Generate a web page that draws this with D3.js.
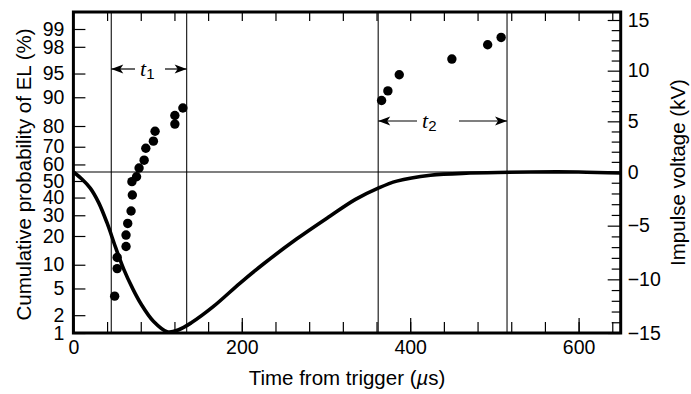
<!doctype html>
<html>
<head>
<meta charset="utf-8">
<style>
    body { margin: 0; background: #fff; }
    text { font-family: "Liberation Sans", Arial, Helvetica, sans-serif; fill: #000; }
    .tl { font-size: 19.5px; }
    .ttl { font-size: 20.5px; }
    .sym { font-family: "Liberation Serif", "Times New Roman", serif; font-style: italic; font-size: 22px; }
    .sub { font-size: 15px; }
</style>
<script src="https://cdn.jsdelivr.net/npm/d3@7"></script>
</head>
<body>
<svg width="691" height="394"></svg>
<script>

// tick labels
var probTicks = [1, 2, 5, 10, 20, 30, 40, 50, 60, 70, 80, 90, 95, 98, 99];
var voltTicks = [-15, -10, -5, 0, 5, 10, 15];
var timeTicks = [0, 200, 400, 600];

// EL onset times (us) and cumulative probability (%)
var elTime = [49, 52, 52, 62.5, 62.5, 64.5, 68.5, 70, 69.5, 75, 78, 84, 86, 95, 97, 120.5, 120.5, 130,
              366, 373.5, 387, 449.5, 492, 508];
var elProb = [3.9, 9.0, 12.1, 15.8, 20.4, 25.8, 32.3, 41.5, 49.6, 52.6, 57.9, 62.5, 69.2, 72.9, 77.7, 80.8, 84.2, 86.8,
              89.1, 91.6, 94.8, 96.9, 98.15, 98.6];

// impulse waveform
var waveTime = [0, 10, 20, 30, 40, 50, 60, 70, 80, 95, 112, 125, 140, 166, 198, 226, 265, 305, 335, 362, 384, 424, 471, 543, 600, 650];
var waveKV = [0, -0.65, -1.5, -2.85, -4.75, -7.0, -9.1, -10.8, -12.25, -13.9, -14.9, -14.7, -14.05, -12.55, -10.35, -8.55, -6.25, -4.1, -2.55, -1.5, -0.85, -0.3, -0.1, 0, 0, -0.1];

// t1 / t2 markers (us)
var markTime = [45, 134.5, 362, 515];

// inverse normal cdf (Acklam)
function probit(p) {
    var a = [-3.969683028665376e+01, 2.209460984245205e+02, -2.759285104469687e+02, 1.383577518672690e+02, -3.066479806614716e+01, 2.506628277459239e+00];
    var b = [-5.447609879822406e+01, 1.615858368580409e+02, -1.556989798598866e+02, 6.680131188771972e+01, -1.328068155288572e+01];
    var c = [-7.784894002430293e-03, -3.223964580411365e-01, -2.400758277161838e+00, -2.549732539343734e+00, 4.374664141464968e+00, 2.938163982698783e+00];
    var d = [7.784695709041462e-03, 3.224671290700398e-01, 2.445134137142996e+00, 3.754408661907416e+00];
    var plow = 0.02425, q, r;
    if (p < plow) {
        q = Math.sqrt(-2 * Math.log(p));
        return (((((c[0]*q+c[1])*q+c[2])*q+c[3])*q+c[4])*q+c[5]) / ((((d[0]*q+d[1])*q+d[2])*q+d[3])*q+1);
    }
    if (p > 1 - plow) {
        q = Math.sqrt(-2 * Math.log(1 - p));
        return -(((((c[0]*q+c[1])*q+c[2])*q+c[3])*q+c[4])*q+c[5]) / ((((d[0]*q+d[1])*q+d[2])*q+d[3])*q+1);
    }
    q = p - 0.5; r = q * q;
    return (((((a[0]*r+a[1])*r+a[2])*r+a[3])*r+a[4])*r+a[5])*q / (((((b[0]*r+b[1])*r+b[2])*r+b[3])*r+b[4])*r+1);
}

var svg = d3.select("svg");
var pLeft = 73.4, pRight = 620.7, pTop = 12, pBottom = 333;

var x = d3.scaleLinear().domain([0, 650]).range([pLeft, pRight]);
var z = d3.scaleLinear().domain([probit(0.01), probit(0.99)]).range([pBottom, 29]);
function yP(p) { return z(probit(p / 100)); }
// voltage axis as drawn in the original is slightly uneven above / below 0
var yV = d3.scaleLinear().domain([-15, 0, 15]).range([pBottom, 172, 20]);

// marker lines and 0 kV line
svg.selectAll(".mark").data(markTime).enter().append("line")
   .attr("x1", function(d) { return x(d); }).attr("x2", function(d) { return x(d); })
   .attr("y1", pTop).attr("y2", pBottom)
   .attr("stroke", "#222").attr("stroke-width", 1.2);

svg.append("line")
   .attr("x1", pLeft).attr("x2", pRight)
   .attr("y1", yV(0)).attr("y2", yV(0))
   .attr("stroke", "#000").attr("stroke-width", 1.2);

// waveform
var line = d3.line()
    .x(function(d, i) { return x(waveTime[i]); })
    .y(function(d) { return yV(d); })
    .curve(d3.curveCatmullRom);
svg.append("path").datum(waveKV)
   .attr("d", line)
   .attr("fill", "none").attr("stroke", "#000").attr("stroke-width", 3.6);

// EL points
svg.selectAll(".dot").data(elProb).enter().append("circle")
   .attr("cx", function(d, i) { return x(elTime[i]); })
   .attr("cy", function(d) { return yP(d); })
   .attr("r", 4.7).attr("fill", "#000");

// bottom / top ticks
var minorT = d3.range(40, 650, 40);
var bAx = svg.append("g").attr("transform", "translate(0," + pBottom + ")")
    .call(d3.axisBottom(x).tickValues(minorT).tickSize(-11).tickFormat(""));
var bAx2 = svg.append("g").attr("transform", "translate(0," + pBottom + ")")
    .call(d3.axisBottom(x).tickValues(timeTicks).tickSize(-15).tickPadding(6).tickFormat(function(d) { return d; }));
var tAx = svg.append("g").attr("transform", "translate(0," + pTop + ")")
    .call(d3.axisTop(x).tickValues(minorT).tickSize(-9).tickFormat(""));

// left probability axis
var lAx = svg.append("g").attr("transform", "translate(" + pLeft + ",0)")
    .call(d3.axisLeft(d3.scaleLinear().domain([pBottom, pTop]).range([pBottom, pTop]))
        .tickValues(probTicks.map(yP)).tickSize(-12).tickPadding(9)
        .tickFormat(function(d, i) { return probTicks[i]; }));

// right voltage axis
var rAx = svg.append("g").attr("transform", "translate(" + pRight + ",0)")
    .call(d3.axisRight(yV).tickValues(d3.range(-15, 16, 1).filter(function(v) { return v % 5 != 0; })).tickSize(-9).tickFormat(""));
var rAx2 = svg.append("g").attr("transform", "translate(" + pRight + ",0)")
    .call(d3.axisRight(yV).tickValues(voltTicks).tickSize(-13).tickPadding(7)
        .tickFormat(function(d) { return d < 0 ? "\u2212" + (-d) : d; }));

svg.selectAll(".domain").remove();
svg.selectAll(".tick line").attr("stroke", "#000").attr("stroke-width", 1.2);
svg.selectAll(".tick text").attr("class", "tl").attr("font-size", null).attr("font-family", null);
bAx2.selectAll(".tick text").attr("dy", "0.35em").attr("y", 14);

// frame
svg.append("rect")
   .attr("x", pLeft).attr("y", pTop)
   .attr("width", pRight - pLeft).attr("height", pBottom - pTop)
   .attr("fill", "none").attr("stroke", "#000").attr("stroke-width", 3);

// titles
svg.append("text").attr("class", "ttl")
   .attr("x", (pLeft + pRight) / 2).attr("y", 385)
   .attr("text-anchor", "middle")
   .html('Time from trigger (<tspan font-style="italic">\u00b5</tspan>s)');

svg.append("text").attr("class", "ttl")
   .attr("transform", "translate(31," + ((pTop + pBottom) / 2 + 2) + ") rotate(-90)")
   .attr("text-anchor", "middle")
   .text("Cumulative probability of EL (%)");

svg.append("text").attr("class", "ttl")
   .attr("transform", "translate(685," + ((pTop + pBottom) / 2) + ") rotate(-90)")
   .attr("text-anchor", "middle")
   .text("Impulse voltage (kV)");

// t1 / t2 arrows
var arrowHead = "M0,0 L12,-4.5 L9,0 L12,4.5 Z";
function span(x0, x1, yy, label, gap0, gap1) {
    svg.append("line").attr("x1", x0).attr("x2", gap0).attr("y1", yy).attr("y2", yy)
       .attr("stroke", "#000").attr("stroke-width", 1.2);
    svg.append("line").attr("x1", gap1).attr("x2", x1).attr("y1", yy).attr("y2", yy)
       .attr("stroke", "#000").attr("stroke-width", 1.2);
    svg.append("path").attr("d", arrowHead).attr("transform", "translate(" + x0 + "," + yy + ")");
    svg.append("path").attr("d", arrowHead).attr("transform", "translate(" + x1 + "," + yy + ") rotate(180)");
    var t = svg.append("text").attr("x", gap0 + 5).attr("y", yy + 7);
    t.append("tspan").attr("class", "sym").text("t");
    t.append("tspan").attr("class", "sub").attr("dy", 3).text(label);
}
span(x(markTime[0]), x(markTime[1]), 69, "1", 135, 165);
span(x(markTime[2]), x(markTime[3]), 121, "2", 417, 459);

</script>
</body>
</html>
